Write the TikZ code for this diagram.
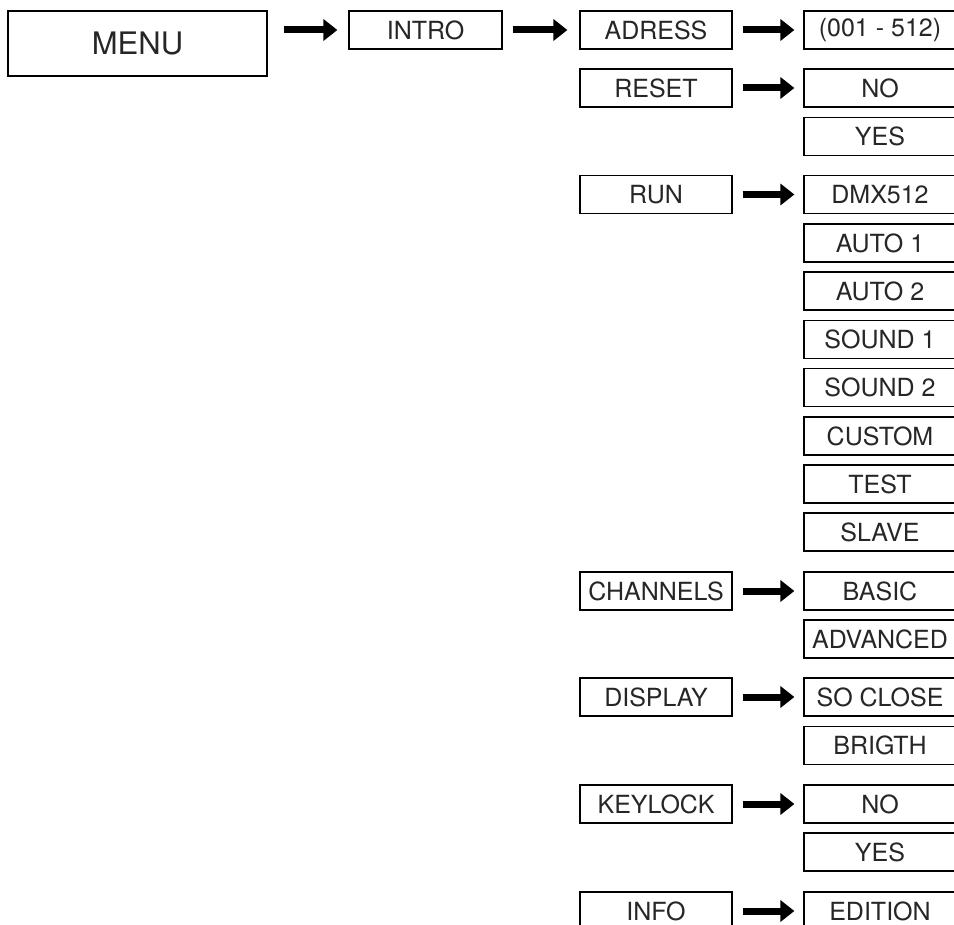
\documentclass[tikz,border=0pt]{standalone}
\usepackage{fontspec}
\setmainfont{TeX Gyre Heros}
\usetikzlibrary{arrows.meta}

\begin{document}
\begin{tikzpicture}[x=1pt,y=-1pt,
  box/.style={draw,line width=1.2pt,minimum width=152pt,minimum height=38pt,inner sep=0pt,
    text=black!85,font=\fontsize{25}{28}\selectfont},
  arr/.style={-{Triangle[length=14pt,width=21pt]},line width=7pt,shorten <=10pt,shorten >=9pt}]
\useasboundingbox (0,0) rectangle (954,925);
\clip (0,0) rectangle (954,925);
\node[box,minimum width=259pt,minimum height=65pt,font=\fontsize{31}{34}\selectfont] (menu) at (137.5,43.5) {MENU};
\node[box,minimum width=153pt] (intro) at (425.5,30) {INTRO};
% left column
\node[box] (adress) at (656,30) {ADRESS};
\node[box] (reset) at (656,88) {RESET};
\node[box] (run) at (656,194.5) {RUN};
\node[box] (channels) at (656,591) {CHANNELS};
\node[box] (display) at (656,697) {DISPLAY};
\node[box] (keylock) at (656,804) {KEYLOCK};
\node[box] (info) at (656,911) {INFO};
% right column
\node[box] (range) at (880,30) {(001 - 512)};
\node[box] (resetno) at (880,88) {NO};
\node[box] (resetyes) at (880,136.5) {YES};
\node[box] (dmx) at (880,194.5) {DMX512};
\node[box] (autoa) at (880,243) {AUTO 1};
\node[box] (autob) at (880,291) {AUTO 2};
\node[box] (sounda) at (880,339.5) {SOUND 1};
\node[box] (soundb) at (880,387.5) {SOUND 2};
\node[box] (custom) at (880,436) {CUSTOM};
\node[box] (test) at (880,484) {TEST};
\node[box] (slave) at (880,532) {SLAVE};
\node[box] (basic) at (880,591) {BASIC};
\node[box] (advanced) at (880,639) {ADVANCED};
\node[box] (soclose) at (880,697) {SO CLOSE};
\node[box] (brigth) at (880,745.5) {BRIGTH};
\node[box] (keyno) at (880,804) {NO};
\node[box] (keyyes) at (880,852) {YES};
\node[box] (edition) at (880,911) {EDITION};
% arrows
\draw[arr,shorten <=16pt,shorten >=11pt] (menu.east |- intro.west) -- (intro.west);
\draw[arr,shorten >=12pt] (intro) -- (adress);
\draw[arr] (adress) -- (range);
\draw[arr] (reset) -- (resetno);
\draw[arr] (run) -- (dmx);
\draw[arr] (channels) -- (basic);
\draw[arr] (display) -- (soclose);
\draw[arr] (keylock) -- (keyno);
\draw[arr] (info) -- (edition);
\end{tikzpicture}
\end{document}
